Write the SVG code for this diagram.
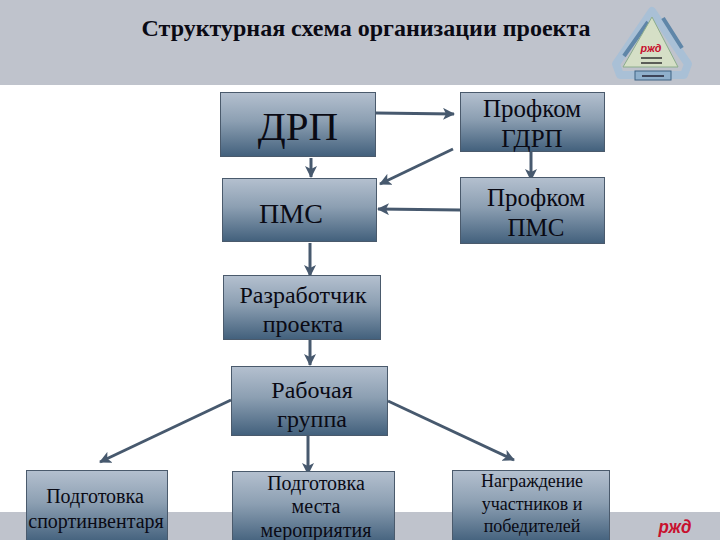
<svg xmlns="http://www.w3.org/2000/svg" width="720" height="540" viewBox="0 0 720 540">
<style>
.box{fill:url(#g);stroke:#4a5a6c;stroke-width:1}
text{font-family:"Liberation Serif","Times New Roman",serif;fill:#0a0a14;text-anchor:middle}
.c{fill:none;stroke:#47596e;stroke-width:3;marker-end:url(#a)}
.band{fill:#bfc3cc}
.mark{font-family:"Liberation Sans",sans-serif;font-weight:bold;font-style:italic;fill:#c8102e}
</style>
<defs>
<linearGradient id="g" x1="0" y1="0" x2="0" y2="1">
<stop offset="0" stop-color="#b4c0cf"/><stop offset=".45" stop-color="#8c9fb2"/><stop offset="1" stop-color="#42607c"/>
</linearGradient>
<marker id="a" markerUnits="userSpaceOnUse" markerWidth="13" markerHeight="12" refX="11" refY="6" orient="auto">
<path d="M0 0L12 6L0 12L3 6Z" fill="#47596e"/>
</marker>
</defs>
<rect width="720" height="540" fill="#fff"/>
<rect class="band" width="720" height="85"/>
<rect class="band" y="512" width="720" height="28"/>
<text x="366" y="36" font-size="24" font-weight="bold">Структурная схема организации проекта</text>

<g id="logo">
<path d="M652 11L688 64L684 75L620 75L616 64Z" fill="none" stroke="#a9c0d6" stroke-width="8" stroke-linejoin="round"/>
<path d="M648 22L624 56M663 18L682 48" stroke="#5f86a8" stroke-width="4" fill="none"/>
<rect x="635" y="71" width="36" height="9" fill="#8fb0cc" stroke="#3f6282"/>
<path d="M652 17L678 67L623 67Z" fill="#d5dfc6" stroke="#8cad8c"/>
<text class="mark" x="651" y="52" font-size="11" textLength="21" lengthAdjust="spacingAndGlyphs">ржд</text>
<path d="M641 58H662M641 63H662" stroke="#333" stroke-width="1.500"/>
<path d="M642 76H664" stroke="#223" stroke-width="1.500"/>
</g>

<g id="connectors">
<path class="c" d="M376 113L454 114"/>
<path class="c" d="M311 158V177"/>
<path class="c" d="M453 149L380 184"/>
<path class="c" d="M531 152V180"/>
<path class="c" d="M460 210L378 209"/>
<path class="c" d="M310 243V276"/>
<path class="c" d="M310 340V365"/>
<path class="c" d="M231 400L100 462"/>
<path class="c" d="M308 436V474"/>
<path class="c" d="M388 401L514 460"/>
</g>

<g id="n-drp"><rect class="box" x="220.500" y="92.500" width="155" height="64"/><text x="298" y="140" font-size="41">ДРП</text></g>
<g id="n-pms"><rect class="box" x="222.500" y="178.500" width="154" height="63"/><text x="291" y="223" font-size="28">ПМС</text></g>
<g id="n-prof-gdrp"><rect class="box" x="460.500" y="92.500" width="144" height="59"/><text x="532" y="117" font-size="25">Профком</text><text x="532" y="147" font-size="25">ГДРП</text></g>
<g id="n-prof-pms"><rect class="box" x="460.500" y="177.500" width="144" height="66"/><text x="536" y="206" font-size="25">Профком</text><text x="536" y="236" font-size="25">ПМС</text></g>
<g id="n-dev"><rect class="box" x="223.500" y="275.500" width="157" height="64"/><text x="303" y="303" font-size="24">Разработчик</text><text x="303" y="332" font-size="24">проекта</text></g>
<g id="n-group"><rect class="box" x="231.500" y="366.500" width="156" height="69"/><text x="312" y="398" font-size="24">Рабочая</text><text x="312" y="427" font-size="24">группа</text></g>
<g id="n-sport"><rect class="box" x="26.500" y="470.500" width="141" height="72"/><text x="95" y="503" font-size="20">Подготовка</text><text x="96" y="528" font-size="20">спортинвентаря</text></g>
<g id="n-place"><rect class="box" x="232.500" y="471.500" width="162" height="72"/><text x="316" y="490" font-size="20">Подготовка</text><text x="316" y="513" font-size="20">места</text><text x="316" y="537" font-size="20">мероприятия</text></g>
<g id="n-award"><rect class="box" x="452.500" y="470.500" width="157" height="72"/><text x="532" y="487" font-size="18">Награждение</text><text x="532" y="510" font-size="18">участников и</text><text x="532" y="532" font-size="18">победителей</text></g>

<text class="mark" x="675" y="533" font-size="18" textLength="33" lengthAdjust="spacingAndGlyphs">ржд</text>
</svg>
